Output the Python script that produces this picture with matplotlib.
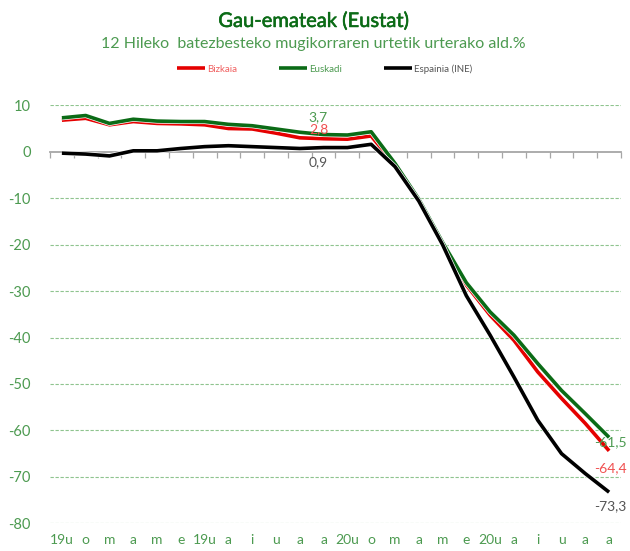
import numpy as np
import matplotlib
matplotlib.use('Agg')
import matplotlib.pyplot as plt
import matplotlib.patheffects as pe

plt.rcParams['font.family'] = ['Lato', 'DejaVu Sans']
plt.rcParams['axes.unicode_minus'] = False

# Datuak (irudiatik irakurriak)
hilabeteak = ['19u', 'o', 'm', 'a', 'm', 'e', '19u', 'a', 'i', 'u', 'a', 'a',
              '20u', 'o', 'm', 'a', 'm', 'e', '20u', 'a', 'i', 'u', 'a', 'a']
bizkaia = [6.8, 7.2, 5.8, 6.5, 6.1, 6.0, 5.8, 5.0, 4.9, 4.0, 3.0, 2.8,
           2.7, 3.4, -2.9, -10.5, -19.7, -28.7, -35.2, -40.6, -47.4, -53.1, -58.5, -64.4]
euskadi = [7.3, 7.8, 6.1, 7.0, 6.6, 6.5, 6.5, 5.9, 5.6, 4.9, 4.2, 3.7,
           3.6, 4.3, -2.5, -10.2, -19.5, -28.2, -34.5, -39.5, -45.6, -51.4, -56.4, -61.5]
espainia = [-0.3, -0.5, -0.9, 0.2, 0.2, 0.7, 1.1, 1.3, 1.1, 0.9, 0.7, 0.9,
            0.9, 1.6, -3.2, -10.6, -20.0, -31.0, -39.5, -48.5, -57.8, -65.0, -69.3, -73.3]
y_ticks = [10, 0, -10, -20, -30, -40, -50, -60, -70, -80]

x = np.arange(len(hilabeteak))

fig = plt.figure(figsize=(6.3, 5.51), dpi=100)
ax = fig.add_axes([50 / 630, 1 - 523.3 / 551, 571 / 630, (523.3 - 105.3) / 551])

# Sareta
for yt in y_ticks:
    if yt != 0:
        ax.axhline(yt, color='#8fc48f', lw=0.8, ls=(0, (3, 1.5)), zorder=0)

# Lerroak
seriak = [('Bizkaia', bizkaia, '#e50000', '#f06060'),
          ('Euskadi', euskadi, '#0b6b16', '#4c9a50'),
          ('Espainia (INE)', espainia, '#000000', '#555555')]
for izena, balioak, kolorea, _ in seriak:
    ax.plot(x, balioak, color=kolorea, lw=2.6, solid_joinstyle='round',
            solid_capstyle='butt', label=izena, zorder=3,
            path_effects=[pe.Stroke(linewidth=3.6, foreground='white'), pe.Normal()])

ax.set_xlim(-0.5, len(x) - 0.5)
ax.set_ylim(-80, 10)

# 0 ardatza
ardatza = ax.secondary_xaxis(0, transform=ax.transData)
ardatza.set_xticks(np.arange(len(x) + 1) - 0.5)
ardatza.set_xticklabels([])
ardatza.tick_params(axis='x', direction='out', length=4, width=0.9, color='#a6a6a6')
ardatza.spines['bottom'].set_color('#a6a6a6')
ardatza.spines['bottom'].set_linewidth(1.3)

for s in ['top', 'right', 'left', 'bottom']:
    ax.spines[s].set_visible(False)
ax.set_xticks(x)
ax.set_xticklabels(hilabeteak)
ax.set_yticks(y_ticks)
ax.tick_params(axis='x', length=0, pad=8, labelsize=10, labelcolor='#4c9a50')
ax.tick_params(axis='y', length=0, pad=14, labelsize=10.5, labelcolor='#4c9a50')

# Datu etiketak
def etiketa(i, balioak, kolorea, dx, dy):
    ax.annotate(f'{balioak[i]:.1f}'.replace('.', ','), (x[i], balioak[i]),
                xytext=(dx, dy), textcoords='offset pixels', ha='center', va='center',
                fontsize=10, color=kolorea, zorder=5)

etiketa(11, euskadi, '#4c9a50', -6, 17)
etiketa(11, bizkaia, '#f05050', -5, 10)
etiketa(11, espainia, '#555555', -5, -15)
etiketa(23, euskadi, '#4c9a50', 1, -5)
etiketa(23, bizkaia, '#f05050', 1, -17)
etiketa(23, espainia, '#555555', 1, -14)

fig.text(0.497, 1 - 21 / 551, 'Gau-emateak (Eustat)', ha='center', va='center',
         fontsize=14.5, color='#0b6b16',
         path_effects=[pe.withStroke(linewidth=0.4, foreground='#0b6b16')])
fig.text(0.497, 1 - 44 / 551, '12 Hileko  batezbesteko mugikorraren urtetik urterako ald.%',
         ha='center', va='center', fontsize=11.5, color='#4c9a50')

leg = fig.legend(loc='center', bbox_to_anchor=(0.515, 1 - 69 / 551), ncol=3,
                 frameon=False, fontsize=7, handlelength=2.9, handletextpad=0.2,
                 columnspacing=4.3, labelcolor=[s[3] for s in seriak])
for h in leg.get_lines():
    h.set_linewidth(2.6)
    h.set_path_effects([])

fig.savefig('out.png', dpi=100)
